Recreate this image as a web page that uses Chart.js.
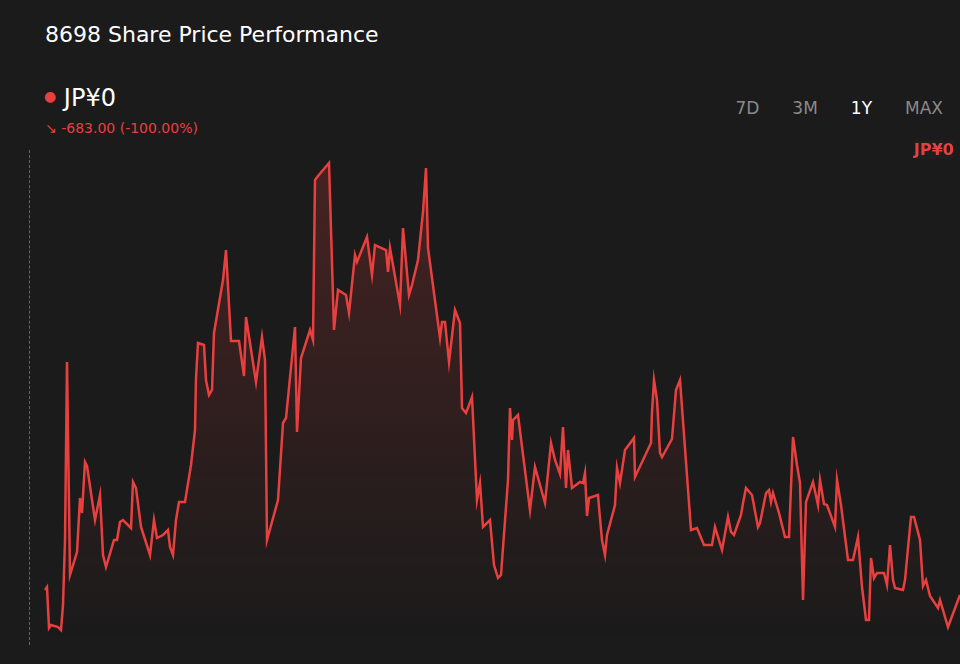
<!DOCTYPE html>
<html>
<head>
<meta charset="utf-8">
<script src="https://cdn.jsdelivr.net/npm/chart.js@4"></script>
<style>
  body { margin:0; background:#1b1b1b; width:960px; height:664px; overflow:hidden; font-family:"DejaVu Sans", sans-serif; position:relative; }
  .title { position:absolute; left:45px; top:22px; color:#fff; font-size:22px; }
  .price { position:absolute; left:44px; top:84px; color:#fff; font-size:24px; }
  .price span { color:#e8403f; font-size:14px; vertical-align:5px; }
  .change { position:absolute; left:45px; top:120px; color:#e8403f; font-size:14px; }
  .ranges { position:absolute; top:98px; right:17px; font-size:17px; color:#8a8a8a; }
  .ranges span { margin-left:33px; }
  .ranges .on { color:#fff; }
  .tag { position:absolute; left:914px; top:140px; color:#e8403f; font-weight:bold; font-size:16px; background:#1e1e1e; }
  .dash { position:absolute; left:29px; top:150px; height:495px; border-left:1px dashed #666; }
  .wrap { position:absolute; left:30px; top:150px; width:930px; height:490px; }
</style>
</head>
<body>
<div class="title">8698 Share Price Performance</div>
<div class="price"><span>●</span> JP¥0</div>
<div class="change">↘ -683.00 (-100.00%)</div>
<div class="ranges"><span>7D</span><span>3M</span><span class="on">1Y</span><span>MAX</span></div>
<div class="dash"></div>
<div class="wrap"><canvas id="priceChart"></canvas></div>
<div class="tag">JP¥0</div>
<script>
const days = [45,47,49,51,58,61,63,65,67,70,77,80,82,85,87,95,100,103,106,114,117,120,123,131,133,136,141,150,154,157,163,168,170,173,176,179,185,191,195,196,198,204,206,209,212,214,223,226,231,239,244,246,256,262,265,267,278,283,286,295,297,301,310,313,315,318,329,334,338,346,349,355,357,367,372,375,386,388,390,400,403,409,412,418,423,426,428,440,442,445,449,455,460,462,466,472,477,480,483,490,494,498,501,508,510,512,513,518,530,535,545,551,555,560,563,566,568,572,580,583,585,587,589,598,599,602,605,607,615,617,620,625,634,635,651,652,654,657,660,662,672,676,680,691,697,704,712,715,722,728,731,734,741,743,746,752,758,760,766,769,771,773,779,785,789,793,797,800,803,806,813,818,820,824,827,835,837,841,848,853,858,862,866,869,871,874,877,884,887,890,893,895,903,905,908,911,914,920,923,926,930,938,940,948,960]
const pricePx = [590,587,628,625,627,630,605,540,362,575,552,498,513,462,466,520,495,555,567,540,540,522,520,528,482,488,527,555,520,538,535,530,547,555,520,502,502,465,430,378,343,345,380,395,390,333,280,250,341,341,376,317,382,337,360,540,500,423,418,327,432,358,330,340,180,176,163,330,290,295,313,255,262,237,275,245,250,272,248,305,228,295,285,260,212,168,248,338,322,322,362,310,323,408,413,397,500,483,527,520,565,578,575,480,408,440,420,415,510,467,503,443,460,474,427,488,450,488,482,483,473,516,498,495,507,540,555,535,505,468,483,450,438,477,443,412,380,400,453,457,439,390,380,530,528,545,545,527,550,517,532,535,515,503,488,495,527,523,493,490,502,493,513,537,537,437,465,483,600,502,482,505,480,504,505,527,480,505,560,560,537,587,620,620,558,578,573,573,585,545,580,588,590,580,548,517,517,540,586,580,596,608,600,627,595]
const prices = pricePx.map(p => 660 - p)

const ctx = document.getElementById("priceChart").getContext("2d")
const grad = ctx.createLinearGradient(0, 0, 0, 490)
grad.addColorStop(0, "rgba(232,64,63,0.22)")
grad.addColorStop(1, "rgba(232,64,63,0)")

new Chart(ctx, {
  type: "line",
  data: {
    datasets: [{
      data: days.map((d, i) => ({ x: d, y: prices[i] })),
      borderColor: "#e8403f",
      borderWidth: 2.5,
      backgroundColor: grad,
      fill: "start",
      pointRadius: 0,
      tension: 0,
      clip: false,
    }],
  },
  options: {
    responsive: true,
    maintainAspectRatio: false,
    animation: false,
    layout: { padding: 0 },
    plugins: { legend: { display: false }, tooltip: { enabled: false } },
    scales: {
      x: { type: "linear", min: 30, max: 960, display: false },
      y: { min: 20, max: 510, display: false },
    },
  },
})
</script>
</body>
</html>
